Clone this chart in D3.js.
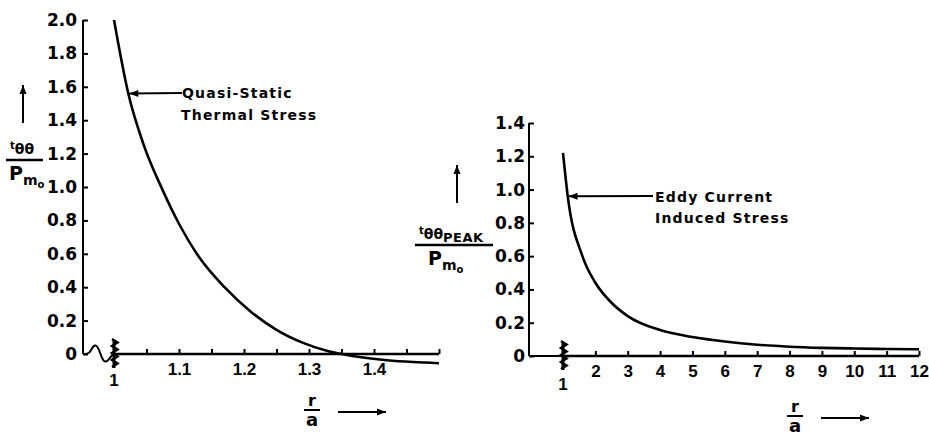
<!DOCTYPE html>
<html lang="en">
<head>
<meta charset="UTF-8">
<title>Thermal and eddy current stress</title>
<style>
    body { margin: 0; background: #fff; }
    svg { display: block; font-family: "DejaVu Sans", sans-serif; font-weight: bold; }
    .axis path, .axis line { stroke: #000; stroke-width: 2; }
    .axis text { font-size: 17px; font-weight: bold; fill: #000; font-family: "DejaVu Sans", sans-serif; }
    .xaxis text { font-family: "Liberation Sans", Arial, sans-serif; }
    .note { font-size: 14px; letter-spacing: 1.2px; }
</style>
</head>
<body>
<svg id="chart" width="929" height="435"></svg>
<script src="https://d3js.org/d3.v7.min.js"></script>
<script>
    // left panel: quasi-static thermal stress vs r/a
    const thermalR = [1.00, 1.022, 1.045, 1.075, 1.10, 1.13, 1.17, 1.21, 1.25, 1.29, 1.33, 1.37, 1.42, 1.46, 1.50];
    const thermalStress = [2.00, 1.56, 1.26, 0.98, 0.78, 0.585, 0.40, 0.255, 0.145, 0.068, 0.016, -0.014, -0.037, -0.048, -0.055];
    const thermalYTicks = [0, 0.2, 0.4, 0.6, 0.8, 1.0, 1.2, 1.4, 1.6, 1.8, 2.0];
    const thermalXTicks = [1.05, 1.1, 1.15, 1.2, 1.25, 1.3, 1.35, 1.4, 1.45, 1.5];
    const thermalXLabels = [1.1, 1.2, 1.3, 1.4];

    // right panel: eddy current induced peak stress vs r/a
    const eddyR = [1, 1.14, 1.6, 2, 2.5, 3, 4, 5, 6, 7, 8, 9, 10, 11, 12];
    const eddyStress = [1.22, 0.97, 0.60, 0.44, 0.32, 0.24, 0.156, 0.114, 0.087, 0.068, 0.056, 0.049, 0.045, 0.042, 0.04];
    const eddyYTicks = [0, 0.2, 0.4, 0.6, 0.8, 1.0, 1.2, 1.4];
    const eddyXTicks = [2, 3, 4, 5, 6, 7, 8, 9, 10, 11, 12];

    const svg = d3.select("#chart");

    function yFmt(d) { return d === 0 ? "0" : d.toFixed(1); }

    // draws the axis break "scribble" at the r = 1 position
    function breakMark(g, x, y) {
        const pts = [];
        for (let i = 0; i <= 8; i++) pts.push([x + (i % 2 ? 3.5 : -2), y - 15 + i * 3.5]);
        g.append("path").attr("d", d3.line()(pts))
            .attr("fill", "none").attr("stroke", "#000").attr("stroke-width", 2.5);
        g.append("line").attr("x1", x).attr("x2", x).attr("y1", y - 14).attr("y2", y + 14)
            .attr("stroke", "#000").attr("stroke-width", 3);
    }

    function arrow(g, x1, y1, x2, y2) {
        g.append("line").attr("x1", x1).attr("y1", y1).attr("x2", x2).attr("y2", y2)
            .attr("stroke", "#000").attr("stroke-width", 2);
        const a = Math.atan2(y2 - y1, x2 - x1);
        const L = 9, W = 3.5;
        const p = [[x2, y2],
            [x2 - L * Math.cos(a) + W * Math.sin(a), y2 - L * Math.sin(a) - W * Math.cos(a)],
            [x2 - L * Math.cos(a) - W * Math.sin(a), y2 - L * Math.sin(a) + W * Math.cos(a)]];
        g.append("path").attr("d", "M" + p.join("L") + "Z").attr("fill", "#000");
    }

    function drawPanel(opt) {
        const g = svg.append("g");
        const x = opt.x, y = opt.y, y0 = y(0);

        // y axis, ticks pointing inward
        const ya = g.append("g").attr("class", "axis")
            .attr("transform", `translate(${opt.axisX},0)`)
            .call(d3.axisLeft(y).tickValues(opt.yTicks).tickFormat(yFmt)
                .tickSizeInner(-5).tickSizeOuter(0).tickPadding(opt.yPad));
        ya.select(".domain").attr("d", `M0,${y0}V${y(opt.yTicks[opt.yTicks.length - 1])}`);

        // x axis ticks and labels (baseline drawn separately)
        const xa = g.append("g").attr("class", "axis xaxis")
            .attr("transform", `translate(0,${y0})`)
            .call(d3.axisBottom(x).tickValues(opt.xTicks)
                .tickFormat(d => opt.xLabels.includes(d) ? d3.format("")(d) : "")
                .tickSizeInner(-5).tickSizeOuter(0).tickPadding(9));
        xa.select(".domain").remove();

        const x1 = x(opt.xDomain[0]);
        g.append("path")
            .attr("d", opt.wiggle ? d3.line().curve(d3.curveBasis)(opt.wiggle(x1, y0)) : `M${opt.axisX},${y0}H${x1}`)
            .attr("fill", "none").attr("stroke", "#000").attr("stroke-width", 2);
        g.append("line").attr("x1", x1).attr("x2", x(opt.xDomain[1])).attr("y1", y0).attr("y2", y0)
            .attr("stroke", "#000").attr("stroke-width", 2.5);
        breakMark(g, x1, y0);
        g.append("text").attr("x", x1).attr("y", y0 + opt.oneDy)
            .attr("text-anchor", "middle").attr("font-size", 17)
            .attr("font-family", "Liberation Sans, Arial, sans-serif").text("1");

        // curve
        const pts = opt.r.map((r, i) => [x(r), y(opt.v[i])]);
        g.append("path").attr("d", d3.line().curve(d3.curveMonotoneX)(pts))
            .attr("fill", "none").attr("stroke", "#000").attr("stroke-width", 2.6);

        // x title r/a with arrow
        const tx = opt.titleX, ty = opt.titleY;
        g.append("text").attr("x", tx).attr("y", ty - 4).attr("text-anchor", "middle")
            .attr("font-size", 16).text("r");
        g.append("line").attr("x1", tx - 8).attr("x2", tx + 8).attr("y1", ty).attr("y2", ty)
            .attr("stroke", "#000").attr("stroke-width", 2);
        g.append("text").attr("x", tx).attr("y", ty + 16).attr("text-anchor", "middle")
            .attr("font-size", 18).text("a");
        arrow(g, tx + 26, ty + 2, tx + 74, ty + 2);
        return g;
    }

    // ---- left panel
    const xL = d3.scaleLinear().domain([1, 1.5]).range([114, 439]);
    const yL = d3.scaleLinear().domain([0, 2]).range([354, 20]);
    const gL = drawPanel({
        x: xL, y: yL, axisX: 83, yPad: 6,
        yTicks: thermalYTicks, xTicks: thermalXTicks, xLabels: thermalXLabels,
        xDomain: [1, 1.5], r: thermalR, v: thermalStress, oneDy: 32,
        titleX: 312, titleY: 410,
        wiggle: (x1, y0) => [[83, y0], [90, y0], [93, y0 - 9], [98, y0 - 9], [103, y0 + 9], [108, y0 + 7], [x1 - 1, y0]]
    });
    arrow(gL, 182, 93, xL(1.022) + 1, yL(1.56));
    gL.append("text").attr("class", "note").attr("x", 182).attr("y", 98).text("Quasi-Static");
    gL.append("text").attr("class", "note").attr("x", 181).attr("y", 120).text("Thermal Stress");

    // ---- right panel
    const xR = d3.scaleLinear().domain([1, 12]).range([563, 919]);
    const yR = d3.scaleLinear().domain([0, 1.4]).range([356, 123]);
    const gR = drawPanel({
        x: xR, y: yR, axisX: 529, yPad: 4,
        yTicks: eddyYTicks, xTicks: eddyXTicks, xLabels: eddyXTicks,
        xDomain: [1, 12], r: eddyR, v: eddyStress, oneDy: 34,
        titleX: 795, titleY: 416, wiggle: null
    });
    arrow(gR, 653, 196, xR(1.14) + 1, yR(0.96));
    gR.append("text").attr("class", "note").attr("x", 655).attr("y", 202).text("Eddy Current");
    gR.append("text").attr("class", "note").attr("x", 655).attr("y", 223).text("Induced Stress");

    // ---- y axis titles (fractions with upward arrows)
    function yTitle(cx, arrowTop, arrowBot, lineY, x0, x1, peak) {
        arrow(svg, cx, arrowBot, cx, arrowTop);
        const num = svg.append("text").attr("x", x0 + 4).attr("y", lineY - 6);
        num.append("tspan").attr("font-size", 10).attr("dy", -5).text("t");
        num.append("tspan").attr("font-size", 14).attr("dy", 5).text("θθ");
        if (peak) num.append("tspan").attr("font-size", 13).attr("dy", 3).attr("letter-spacing", 0.5).text("PEAK");
        svg.append("line").attr("x1", x0).attr("x2", x1).attr("y1", lineY).attr("y2", lineY)
            .attr("stroke", "#000").attr("stroke-width", 2.5);
        const den = svg.append("text").attr("x", peak ? x0 + 13 : x0 + 3).attr("y", lineY + 20);
        den.append("tspan").attr("font-size", 19).text("P");
        den.append("tspan").attr("font-size", 14).attr("dy", 5).text("m");
        den.append("tspan").attr("font-size", 10).attr("dy", 3).text("o");
    }
    yTitle(23, 85, 123, 160, 6, 43, false);
    yTitle(457, 165, 203, 245, 415, 493, true);
</script>
</body>
</html>
